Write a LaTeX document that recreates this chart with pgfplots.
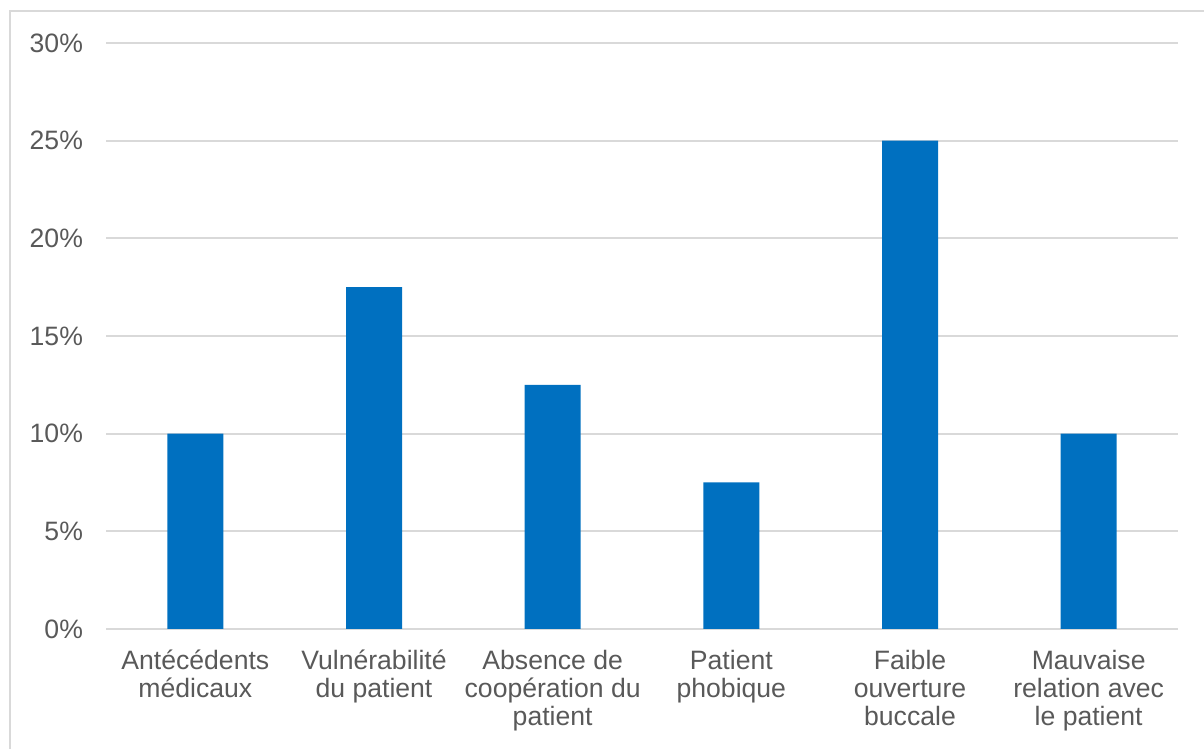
\documentclass[border=0pt]{standalone}
\usepackage{pgfplots}
\pgfplotsset{compat=1.18}
\usepackage{fontspec}
\setmainfont{Liberation Sans}
\definecolor{barblue}{HTML}{0070C0}
\definecolor{gridgray}{HTML}{D9D9D9}
\definecolor{txtgray}{HTML}{595959}
\begin{document}
\begin{tikzpicture}
\useasboundingbox (0,0) rectangle (602pt,374.5pt);
\begin{scope}
\clip (0,0) rectangle (602pt,374.5pt);
\draw[gridgray, line width=1pt] (5pt,-10pt) -- (5pt,369pt) -- (620pt,369pt);
\end{scope}
\begin{axis}[
  at={(53pt,60pt)}, anchor=south west,
  scale only axis, width=536pt, height=293pt,
  xmin=-0.5, xmax=5.5, ymin=0, ymax=30,
  ytick={0,5,10,15,20,25,30},
  yticklabel={\pgfmathprintnumber{\tick}\%},
  /pgf/number format/assume math mode=true,
  xtick={0,1,2,3,4,5},
  xticklabels={{Antécédents\\médicaux},{Vulnérabilité\\du patient},{Absence de\\coopération du\\patient},{Patient\\phobique},{Faible\\ouverture\\buccale},{Mauvaise\\relation avec\\le patient}},
  xticklabel style={align=center, font=\fontsize{13.3}{14}\selectfont, text=txtgray, yshift=-7pt},
  yticklabel style={font=\fontsize{13.3}{14}\selectfont, text=txtgray, xshift=-8pt},
  major tick length=0pt,
  ymajorgrids, grid style={gridgray, line width=1pt},
  axis x line*=bottom, axis y line*=left,
  x axis line style={gridgray, line width=1pt, -},
  y axis line style={draw=none},
  ]
\addplot[ybar, bar width=28pt, fill=barblue, draw=none] table {
x y
0 10
1 17.5
2 12.5
3 7.5
4 25
5 10
};
\end{axis}
\end{tikzpicture}
\end{document}
